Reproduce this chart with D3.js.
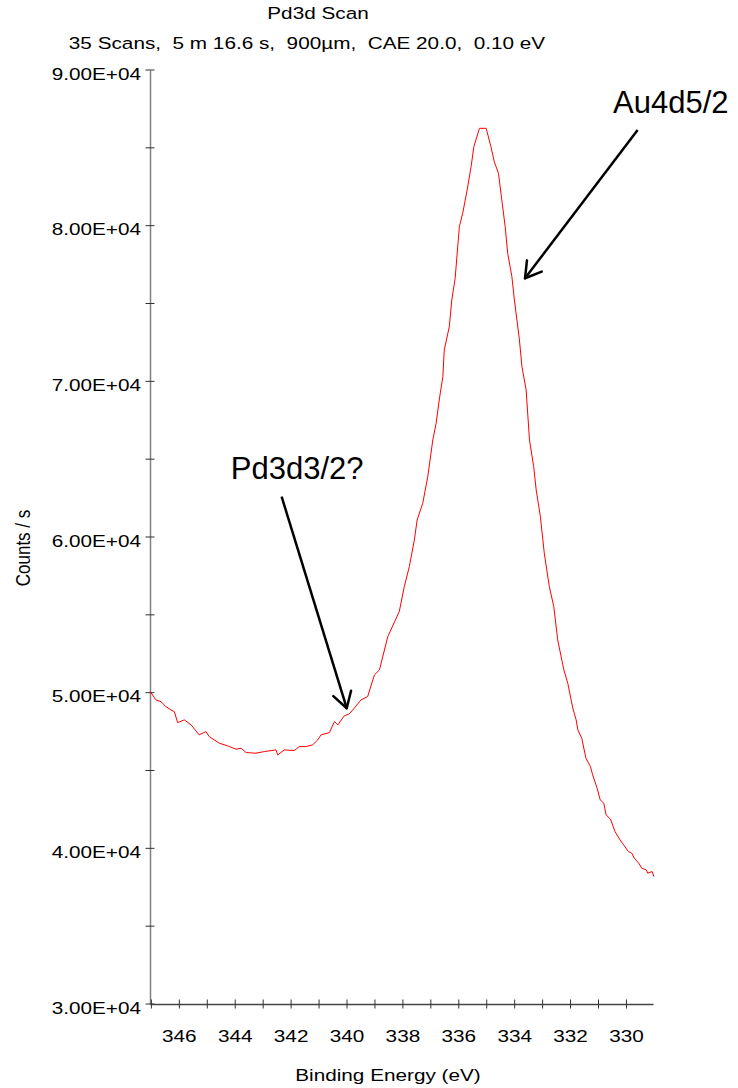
<!DOCTYPE html>
<html>
<head>
<meta charset="utf-8">
<script src="https://cdn.jsdelivr.net/npm/d3@7"></script>
<style>
  html, body { margin: 0; padding: 0; background: #fff; }
  svg { display: block; }
  text { font-family: "Liberation Sans", Arial, sans-serif; fill: #000; white-space: pre; }
</style>
</head>
<body>
<svg id="chart" width="738" height="1088"></svg>
<script>
// ---- data ----
const titleText = "Pd3d Scan";
const subtitleText = "35 Scans,  5 m 16.6 s,  900µm,  CAE 20.0,  0.10 eV";
const xLabel = "Binding Energy (eV)";
const yLabel = "Counts / s";

const energy = [347.04,346.84,346.66,346.48,346.30,346.18,346.06,345.82,345.58,345.29,
  345.05,344.93,344.57,344.27,343.97,343.79,343.61,343.26,342.96,342.54,
  342.48,342.24,341.89,341.71,341.47,341.23,341.05,340.93,340.63,340.45,
  340.33,340.10,339.92,339.74,339.50,339.26,339.02,338.84,338.54,338.13,
  337.95,337.77,337.59,337.49,337.29,337.11,336.93,336.81,336.70,336.57,
  336.52,336.34,336.25,336.13,335.98,335.86,335.70,335.56,335.46,335.26,
  335.02,334.85,334.73,334.58,334.46,334.34,334.25,334.10,334.01,333.83,
  333.74,333.59,333.47,333.32,333.23,333.08,332.94,332.76,332.60,332.46,
  332.24,332.10,331.98,331.92,331.80,331.74,331.60,331.45,331.29,331.21,
  331.05,330.94,330.81,330.73,330.57,330.41,330.23,330.10,329.93,329.81,
  329.72,329.56,329.45,329.29,329.24,329.08,329.02];
const counts = [50070,49535,49426,49105,48893,48783,48077,48250,47929,47287,
  47499,47178,46754,46581,46368,46433,46150,46112,46214,46324,
  46002,46324,46279,46536,46536,46645,46966,47287,47435,48141,
  47929,48507,48636,49002,49535,49747,51141,51462,53601,55207,
  56812,58097,59812,61096,62169,63878,66235,67308,68804,70301,
  72016,73512,75227,76621,79935,80796,82292,83789,85074,86255,
  86255,85074,84110,83365,81650,79935,78227,76724,75227,72658,
  70943,69446,66235,64520,63023,61309,58958,56812,55528,53389,
  51462,50608,49535,49002,48250,47608,47075,45790,45251,44718,
  43864,43112,42900,42149,41872,41076,40543,40222,39791,39688,
  39368,39046,38725,38616,38404,38507,38186];

const xDomain = [347.05, 329.05];
const yDomain = [30000, 90000];
const xMajorTicks = [346, 344, 342, 340, 338, 336, 334, 332, 330];
const xMinorTicks = d3.range(347, 329, -1);
const yMajorTicks = [30000, 40000, 50000, 60000, 70000, 80000, 90000];
const yMinorTicks = d3.range(30000, 90001, 5000);
const yTickLabels = ["3.00E+04","4.00E+04","5.00E+04","6.00E+04","7.00E+04","8.00E+04","9.00E+04"];

// annotations in data units: label, text anchor point, arrow start, arrow tip
const annLabels = ["Au4d5/2", "Pd3d3/2?"];
const annTextE = [330.48, 344.16];
const annTextC = [87238, 63711];
const annFromE = [329.60, 342.34];
const annFromC = [86146, 62593];
const annToE = [333.63, 340.01];
const annToC = [76621, 49002];

// ---- layout ----
const svg = d3.select("#chart");
const mLeft = 150, mRight = 653, mTop = 70, mBottom = 1004;
const stretch = 1.22; // horizontal stretch of the exported chart text

const x = d3.scaleLinear().domain(xDomain).range([mLeft, mRight]);
const y = d3.scaleLinear().domain(yDomain).range([mBottom, mTop]);

function sText(g, str, tx, ty, anchor, size) {
  return g.append("text")
    .attr("transform", `translate(${tx},${ty}) scale(${stretch},1)`)
    .attr("text-anchor", anchor)
    .attr("xml:space", "preserve")
    .style("font-size", size + "px")
    .text(str);
}

// titles
sText(svg, titleText, 318, 19, "middle", 17);
sText(svg, subtitleText, 307, 49, "middle", 17);

// y axis
const yAxisG = svg.append("g").attr("transform", `translate(${mLeft},0)`);
yAxisG.call(d3.axisLeft(y).tickValues(yMinorTicks).tickSize(0).tickFormat(""));
yAxisG.select(".domain").attr("stroke", "#808080").attr("stroke-width", 1.5);
yAxisG.selectAll(".tick line").remove();
yAxisG.selectAll(".ytk").data(yMinorTicks).enter().append("line")
  .attr("x1", -4.5).attr("x2", 4.5)
  .attr("y1", d => y(d)).attr("y2", d => y(d))
  .attr("stroke", "#333").attr("stroke-width", 1);
yMajorTicks.forEach((v, i) => {
  sText(svg, yTickLabels[i], mLeft - 9, y(v) + 9.5, "end", 17);
});

// x axis
const xAxisG = svg.append("g").attr("transform", `translate(0,${mBottom})`);
xAxisG.call(d3.axisBottom(x).tickValues(xMinorTicks).tickSize(0).tickFormat(""));
xAxisG.select(".domain").attr("stroke", "#444").attr("stroke-width", 1.5);
xAxisG.selectAll(".tick line").remove();
xAxisG.selectAll(".xtk").data(xMinorTicks).enter().append("line")
  .attr("x1", d => x(d)).attr("x2", d => x(d))
  .attr("y1", -4.5).attr("y2", 4.5)
  .attr("stroke", "#333").attr("stroke-width", 1);
xMajorTicks.forEach(v => {
  sText(svg, String(v), x(v), mBottom + 38, "middle", 17);
});

// axis titles
sText(svg, xLabel, 388, 1081, "middle", 17);
svg.append("text")
  .attr("transform", `translate(30,548) rotate(-90) scale(1,${stretch})`)
  .attr("text-anchor", "middle")
  .style("font-size", "17px")
  .text(yLabel);

// data line
const pts = energy.map((e, i) => [e, counts[i]]);
svg.append("path")
  .datum(pts)
  .attr("fill", "none")
  .attr("stroke", "#ff0000")
  .attr("stroke-width", 1)
  .attr("d", d3.line().x(d => x(d[0])).y(d => y(d[1])));

// annotations
annLabels.forEach((lab, i) => {
  svg.append("text")
    .attr("x", x(annTextE[i])).attr("y", y(annTextC[i]))
    .style("font-size", "31px")
    .text(lab);
  const x0 = x(annFromE[i]), y0 = y(annFromC[i]);
  const x1 = x(annToE[i]), y1 = y(annToC[i]);
  svg.append("line")
    .attr("x1", x0).attr("y1", y0).attr("x2", x1).attr("y2", y1)
    .attr("stroke", "#000").attr("stroke-width", 2.5);
  const ang = Math.atan2(y0 - y1, x0 - x1);
  const hl = 18, ha = 31 * Math.PI / 180;
  [ang - ha, ang + ha].forEach(a => {
    svg.append("line")
      .attr("x1", x1).attr("y1", y1)
      .attr("x2", x1 + hl * Math.cos(a)).attr("y2", y1 + hl * Math.sin(a))
      .attr("stroke", "#000").attr("stroke-width", 2.5)
      .attr("stroke-linecap", "round");
  });
});
</script>
</body>
</html>
